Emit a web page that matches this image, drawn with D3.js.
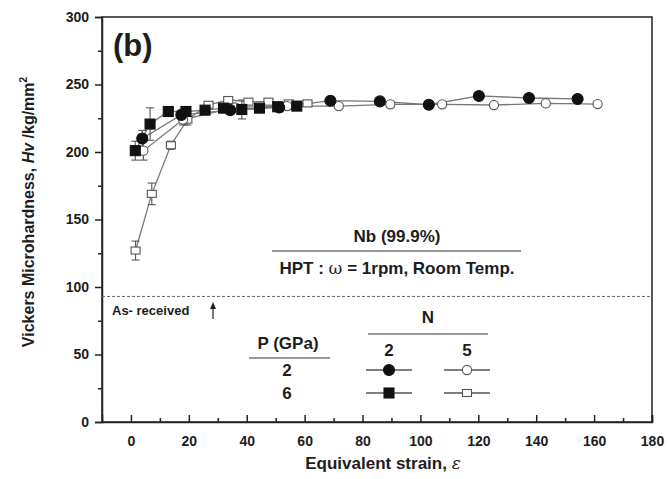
<!DOCTYPE html>
<html><head><meta charset="utf-8">
<script src="https://cdn.jsdelivr.net/npm/d3@7"></script>
<style>
body{margin:0;background:#fff;}
text{font-family:"Liberation Sans",Arial,sans-serif;font-weight:bold;fill:#1d1d1d;}
</style></head>
<body><svg id="c" width="668" height="479"></svg>
<script>
// ---- data ----
const p2n2_x = [3.9, 17.4, 34.3, 51.2, 68.9, 86.0, 102.9, 120.2, 137.5, 154.3];
const p2n2_y = [210, 227.5, 231, 233, 238, 237.5, 235, 241.5, 240, 239.3];
const p2n2_e = [6, 3, 2, 2, 1, 1, 1, 1, 1, 1];

const p2n5_x = [4.3, 18.0, 36.0, 54.0, 71.8, 89.6, 107.5, 125.4, 143.3, 161.2];
const p2n5_y = [201, 224, 233, 234, 234, 235.3, 235.3, 234.8, 236, 235.5];
const p2n5_e = [7, 4, 2, 2, 2, 2, 2, 2, 2, 2];

const p6n2_x = [1.5, 6.6, 12.9, 19.0, 25.6, 32.0, 38.3, 44.4, 50.7, 57.3];
const p6n2_y = [201, 220.7, 230, 230, 231, 232.5, 231.5, 232.5, 233.5, 234];
const p6n2_e = [7, 12, 2, 2, 2, 2, 7, 2, 2, 2];

const p6n5_x = [1.6, 7.2, 13.8, 19.5, 26.8, 33.6, 40.6, 47.5, 54.5, 61.0];
const p6n5_y = [127, 169, 205, 224, 235, 238.5, 237.3, 237.3, 236, 236];
const p6n5_e = [7, 8, 3, 4, 2, 2, 2, 2, 2, 2];

const xTicks = [0, 20, 40, 60, 80, 100, 120, 140, 160, 180];
const yTicks = [0, 50, 100, 150, 200, 250, 300];
const asReceived = 93;

const series = [
  {x: p6n5_x, y: p6n5_y, e: p6n5_e, shape: "square", fill: false},
  {x: p2n5_x, y: p2n5_y, e: p2n5_e, shape: "circle", fill: false},
  {x: p2n2_x, y: p2n2_y, e: p2n2_e, shape: "circle", fill: true},
  {x: p6n2_x, y: p6n2_y, e: p6n2_e, shape: "square", fill: true}
];

// ---- layout ----
const svg = d3.select("#c");
const L = 102, R = 652, T = 17, B = 422;
const x = d3.scaleLinear().domain([-10, 180]).range([L, R]);
const y = d3.scaleLinear().domain([0, 300]).range([B, T]);

// frame
svg.append("rect").attr("x", L).attr("y", T).attr("width", R - L).attr("height", B - T)
  .attr("fill", "none").attr("stroke", "#222").attr("stroke-width", 1.5);

// y axis (outward ticks)
svg.append("g").attr("transform", `translate(${L},0)`)
  .call(d3.axisLeft(y).tickValues(yTicks).tickSize(7).tickPadding(6).tickFormat(d3.format("d")));
svg.append("g").attr("transform", `translate(${L},0)`)
  .call(d3.axisLeft(y).tickValues(d3.range(25, 300, 50)).tickSize(4).tickFormat(""))
  .call(g => g.select(".domain").remove());
// x axis (inward ticks)
svg.append("g").attr("transform", `translate(0,${B})`)
  .call(d3.axisBottom(x).tickValues(xTicks).tickSize(-7).tickPadding(14).tickFormat(d3.format("d")));
svg.append("g").attr("transform", `translate(0,${B})`)
  .call(d3.axisBottom(x).tickValues(d3.range(10, 180, 20)).tickSize(-4).tickFormat(""))
  .call(g => g.select(".domain").remove());
svg.selectAll(".tick line").attr("stroke", "#222").attr("stroke-width", 1.5);
svg.selectAll(".domain").attr("stroke", "#222").attr("stroke-width", 1.5);
svg.selectAll(".tick text").style("font-size", "14px").style("font-family", "Liberation Sans, Arial, sans-serif")
  .style("font-weight", "bold").attr("fill", "#1d1d1d");

// axis titles
svg.append("text").attr("x", 383).attr("y", 469).attr("text-anchor", "middle").style("font-size", "17px")
  .html('Equivalent strain, <tspan font-style="italic" font-family="DejaVu Serif" font-weight="normal">ε</tspan>');
svg.append("text").attr("transform", "translate(34,212) rotate(-90)").attr("text-anchor", "middle").style("font-size", "16px")
  .html('Vickers Microhardness, <tspan font-style="italic">Hv</tspan> /kg/mm<tspan dy="-7" style="font-size:10px">2</tspan>');

// as-received dashed line
svg.append("line").attr("x1", L).attr("x2", R).attr("y1", y(asReceived)).attr("y2", y(asReceived))
  .attr("stroke", "#666").attr("stroke-width", 1).attr("stroke-dasharray", "3,2");
svg.append("text").attr("x", 112).attr("y", 315).style("font-size", "13px").text("As- received");
svg.append("path").attr("d", "M213,319 L213,307").attr("stroke", "#222").attr("stroke-width", 1.2);
svg.append("path").attr("d", "M210,309 L213,302 L216,309 Z").attr("fill", "#222");

// series lines
const line = d3.line();
series.forEach(s => {
  svg.append("path").datum(s.x.map((v, i) => [x(v), y(s.y[i])]))
    .attr("d", line).attr("fill", "none").attr("stroke", "#777").attr("stroke-width", 1.3);
});
// error bars
series.forEach(s => {
  const g = svg.append("g").attr("stroke", "#555").attr("stroke-width", 1.1);
  s.x.forEach((v, i) => {
    const cx = x(v), y1 = y(s.y[i] - s.e[i]), y2 = y(s.y[i] + s.e[i]);
    g.append("line").attr("x1", cx).attr("x2", cx).attr("y1", y1).attr("y2", y2);
    g.append("line").attr("x1", cx - 4).attr("x2", cx + 4).attr("y1", y1).attr("y2", y1);
    g.append("line").attr("x1", cx - 4).attr("x2", cx + 4).attr("y1", y2).attr("y2", y2);
  });
});
function marker(g, shape, fill, cx, cy) {
  if (shape === "circle") {
    g.append("circle").attr("cx", cx).attr("cy", cy).attr("r", fill ? 5.5 : 4.6)
      .attr("fill", fill ? "#111" : "#fff").attr("stroke", fill ? "#111" : "#555").attr("stroke-width", 1.1);
  } else {
    const s = fill ? 10 : 9;
    g.append("rect").attr("x", cx - s / 2).attr("y", cy - (fill ? s : 7) / 2).attr("width", s).attr("height", fill ? s : 7)
      .attr("fill", fill ? "#111" : "#fff").attr("stroke", fill ? "#111" : "#555").attr("stroke-width", 1.1);
  }
}
series.forEach(s => {
  const g = svg.append("g");
  s.x.forEach((v, i) => marker(g, s.shape, s.fill, x(v), y(s.y[i])));
});

// panel label
svg.append("text").attr("x", 113).attr("y", 56).style("font-size", "31px").text("(b)");

// annotations
svg.append("text").attr("x", 397).attr("y", 242).attr("text-anchor", "middle").style("font-size", "17px").text("Nb (99.9%)");
svg.append("line").attr("x1", 272).attr("x2", 521).attr("y1", 251).attr("y2", 251).attr("stroke", "#333").attr("stroke-width", 1.2);
svg.append("text").attr("x", 397).attr("y", 274).attr("text-anchor", "middle").style("font-size", "17px")
  .html('HPT :  <tspan font-weight="normal" font-family="DejaVu Serif">ω</tspan> = 1rpm, Room Temp.');

// legend
svg.append("text").attr("x", 428).attr("y", 323).attr("text-anchor", "middle").style("font-size", "17px").text("N");
svg.append("line").attr("x1", 368).attr("x2", 488).attr("y1", 334).attr("y2", 334).attr("stroke", "#333").attr("stroke-width", 1.2);
svg.append("text").attr("x", 288).attr("y", 349).attr("text-anchor", "middle").style("font-size", "17px").text("P (GPa)");
svg.append("line").attr("x1", 249).attr("x2", 330).attr("y1", 358).attr("y2", 358).attr("stroke", "#333").attr("stroke-width", 1.2);
const nVals = ["2", "5"], pVals = ["2", "6"];
const colX = [389, 467], rowY = [370, 393];
nVals.forEach((n, i) => svg.append("text").attr("x", colX[i]).attr("y", 356).attr("text-anchor", "middle").style("font-size", "17px").text(n));
pVals.forEach((p, j) => svg.append("text").attr("x", 287).attr("y", rowY[j] + 6).attr("text-anchor", "middle").style("font-size", "17px").text(p));
const legSeries = [[series[2], series[1]], [series[3], series[0]]];
legSeries.forEach((row, j) => row.forEach((s, i) => {
  const g = svg.append("g");
  g.append("line").attr("x1", colX[i] - 23).attr("x2", colX[i] + 23).attr("y1", rowY[j]).attr("y2", rowY[j])
    .attr("stroke", "#555").attr("stroke-width", 1.3);
  marker(g, s.shape, s.fill, colX[i], rowY[j]);
}));
</script></body></html>
